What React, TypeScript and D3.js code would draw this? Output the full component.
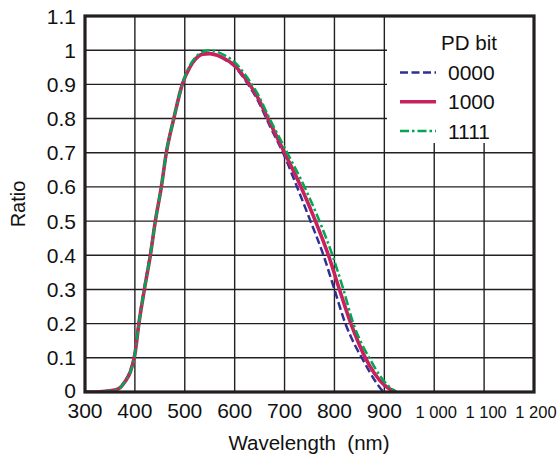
import React from "react";
import * as d3 from "d3";

const xTicks = [300, 400, 500, 600, 700, 800, 900, 1000, 1100, 1200];
const xTickLabels = ["300", "400", "500", "600", "700", "800", "900", "1 000", "1 100", "1 200"];
const yTicks = [0, 0.1, 0.2, 0.3, 0.4, 0.5, 0.6, 0.7, 0.8, 0.9, 1, 1.1];
const yTickLabels = ["0", "0.1", "0.2", "0.3", "0.4", "0.5", "0.6", "0.7", "0.8", "0.9", "1", "1.1"];

const seriesNames = ["0000", "1000", "1111"];

const wl0000 = [300, 320, 340, 360, 370, 380, 390, 400, 408, 419, 431, 441, 453, 463, 478, 495, 510, 522, 535, 550, 565, 580, 600, 620, 645, 670, 700, 725, 752, 778, 800, 822, 840, 855, 870, 885, 898];
const r0000 = [0, 0, 0.002, 0.006, 0.013, 0.032, 0.06, 0.115, 0.205, 0.305, 0.405, 0.5, 0.6, 0.7, 0.8, 0.9, 0.95, 0.975, 0.988, 0.99, 0.985, 0.973, 0.952, 0.915, 0.857, 0.78, 0.69, 0.6, 0.5, 0.4, 0.3, 0.2, 0.14, 0.1, 0.06, 0.025, 0];

const wl1000 = [300, 320, 340, 360, 370, 380, 390, 400, 408, 419, 431, 441, 453, 463, 478, 495, 510, 522, 535, 550, 565, 580, 600, 620, 645, 670, 700, 733, 762, 788, 810, 833, 848, 862, 880, 900, 922];
const r1000 = [0, 0, 0.002, 0.006, 0.012, 0.03, 0.055, 0.11, 0.2, 0.3, 0.4, 0.5, 0.6, 0.7, 0.8, 0.9, 0.95, 0.975, 0.988, 0.99, 0.985, 0.975, 0.955, 0.92, 0.865, 0.79, 0.7, 0.6, 0.5, 0.4, 0.3, 0.2, 0.145, 0.1, 0.055, 0.02, 0];

const wl1111 = [300, 320, 340, 360, 370, 380, 390, 400, 408, 419, 431, 441, 453, 463, 478, 495, 510, 522, 535, 550, 565, 580, 600, 620, 645, 670, 700, 740, 770, 796, 818, 838, 855, 870, 890, 908, 925];
const r1111 = [0, 0, 0.002, 0.006, 0.012, 0.03, 0.055, 0.11, 0.2, 0.3, 0.4, 0.5, 0.6, 0.7, 0.8, 0.9, 0.955, 0.98, 0.995, 1.0, 0.995, 0.985, 0.965, 0.93, 0.875, 0.8, 0.715, 0.6, 0.5, 0.4, 0.3, 0.2, 0.14, 0.1, 0.05, 0.018, 0];

const colors = ["#2e3192", "#c8215d", "#00a651"];
const dashes = ["8 3.5", "", "9 3 2.5 3"];
const widths = [2.5, 3.6, 2.5];

export default function App() {
  const W = 560, H = 465;
  const left = 85, right = 534, top = 16, bottom = 392;
  const x = d3.scaleLinear().domain([300, 1200]).range([left, right]);
  const y = d3.scaleLinear().domain([0, 1.1]).range([bottom, top]);
  const line = d3
    .line<[number, number]>()
    .x((d) => x(d[0]))
    .y((d) => y(d[1]))
    .curve(d3.curveMonotoneX);

  const series = [
    wl0000.map((w, i) => [w, r0000[i]] as [number, number]),
    wl1000.map((w, i) => [w, r1000[i]] as [number, number]),
    wl1111.map((w, i) => [w, r1111[i]] as [number, number]),
  ];
  const font = "'Liberation Sans', Arial, Helvetica, sans-serif";
  const ink = "#231f20";

  return (
    <svg width={W} height={H} style={{ position: "absolute", left: 0, top: 0, background: "#fff" }} fontFamily={font}>
      <defs>
        <clipPath id="plotclip">
          <rect x={left} y={top} width={right - left} height={bottom - top} />
        </clipPath>
      </defs>
      {xTicks.slice(1, -1).map((t) => (
        <line key={"gx" + t} x1={x(t)} x2={x(t)} y1={top} y2={bottom} stroke={ink} strokeWidth={1.4} />
      ))}
      {yTicks.slice(1, -1).map((t) => (
        <line key={"gy" + t} x1={left} x2={right} y1={y(t)} y2={y(t)} stroke={ink} strokeWidth={1.4} />
      ))}
      <rect x={387} y={top} width={right - 387} height={127} fill="#fff" />
      <g clipPath="url(#plotclip)">
        {series.map((s, i) => (
          <path
            key={"s" + i}
            d={line(s) || ""}
            fill="none"
            stroke={colors[i]}
            strokeWidth={widths[i]}
            strokeDasharray={dashes[i] || undefined}
          />
        ))}
      </g>
      <rect x={left} y={top} width={right - left} height={bottom - top} fill="none" stroke={ink} strokeWidth={3.2} />
      {yTicks.map((t, i) => (
        <text key={"yl" + t} x={76} y={y(t) - (t === 0 ? 2 : 0)} dy="0.36em" textAnchor="end" fontSize={21} fill="#111">
          {yTickLabels[i]}
        </text>
      ))}
      {xTicks.map((t, i) => (
        <text
          key={"xl" + t}
          x={x(t) + (t >= 1000 ? 2 : 0)}
          y={418}
          textAnchor="middle"
          fontSize={t >= 1000 ? 16.5 : 21}
          fill="#111"
        >
          {xTickLabels[i]}
        </text>
      ))}
      <text x={309} y={450} textAnchor="middle" fontSize={20.5} fill="#111">
        {"Wavelength\u00a0\u00a0(nm)"}
      </text>
      <text transform={`translate(25, ${(top + bottom) / 2}) rotate(-90)`} textAnchor="middle" fontSize={20} fill="#111">
        Ratio
      </text>
      <text x={469} y={50} textAnchor="middle" fontSize={20.5} fill="#111">PD bit</text>
      {seriesNames.map((n, i) => (
        <g key={"lg" + n}>
          <line
            x1={400}
            x2={436}
            y1={72.5 + i * 29.3}
            y2={72.5 + i * 29.3}
            stroke={colors[i]}
            strokeWidth={widths[i]}
            strokeDasharray={dashes[i] || undefined}
          />
          <text x={448} y={72.5 + i * 29.3} dy="0.36em" fontSize={21} fill="#111">
            {n}
          </text>
        </g>
      ))}
    </svg>
  );
}
